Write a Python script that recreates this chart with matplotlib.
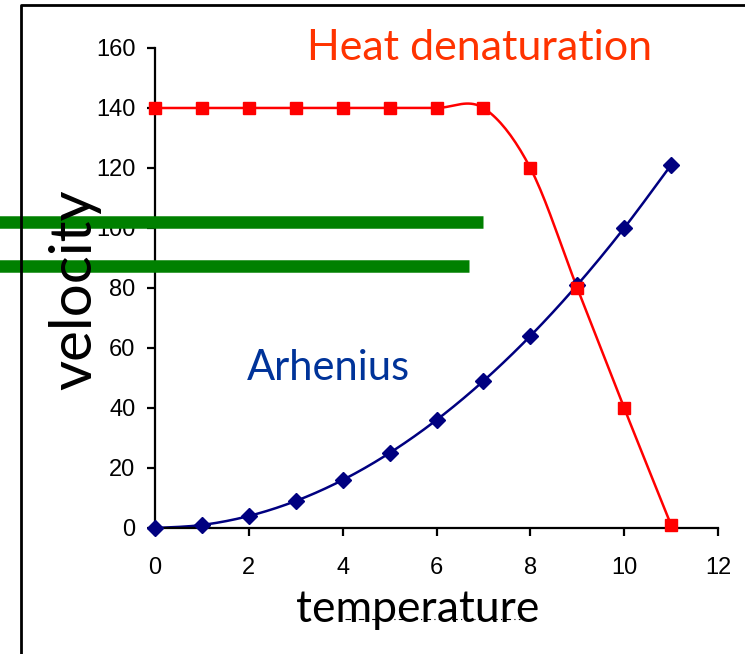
import numpy as np
import matplotlib.pyplot as plt
from matplotlib.lines import Line2D

plt.rcParams['font.family'] = ['Liberation Sans', 'DejaVu Sans']

temperature = [0, 1, 2, 3, 4, 5, 6, 7, 8, 9, 10, 11]
heat_denat = [140, 140, 140, 140, 140, 140, 140, 140, 120, 80, 40, 1]
arhenius = [0, 1, 4, 9, 16, 25, 36, 49, 64, 81, 100, 121]
green_levels = [102, 87.3]
green_ends = [7.0, 6.7]


def smooth(x, y, n=20):
    # Excel-style smoothed line (bezier through points)
    x = np.asarray(x, float)
    y = np.asarray(y, float)
    px = np.concatenate([[x[0]], x, [x[-1]]])
    py = np.concatenate([[y[0]], y, [y[-1]]])
    xs, ys = [], []
    t = np.linspace(0, 1, n)
    for i in range(1, len(px) - 2):
        p0 = np.array([px[i], py[i]])
        p3 = np.array([px[i + 1], py[i + 1]])
        c1 = p0 + (np.array([px[i + 1], py[i + 1]]) - np.array([px[i - 1], py[i - 1]])) / 6
        c2 = p3 - (np.array([px[i + 2], py[i + 2]]) - np.array([px[i], py[i]])) / 6
        b = ((1 - t) ** 3)[:, None] * p0 + (3 * (1 - t) ** 2 * t)[:, None] * c1 \
            + (3 * (1 - t) * t ** 2)[:, None] * c2 + (t ** 3)[:, None] * p3
        xs.extend(b[:, 0])
        ys.extend(b[:, 1])
    return xs, ys


fig = plt.figure(figsize=(7.45, 6.54), dpi=100)
ax = fig.add_axes([155 / 745, 126 / 654, 563 / 745, 480 / 654])

sx, sy = smooth(temperature, arhenius)
ax.plot(sx, sy, color='#000080', lw=1.8, clip_on=False)
ax.plot(temperature, arhenius, ls='none', marker='D', ms=8, color='#000080', clip_on=False, zorder=4)

sx, sy = smooth(temperature, heat_denat)
ax.plot(sx, sy, color='#ff0000', lw=1.8, clip_on=False)
ax.plot(temperature, heat_denat, ls='none', marker='s', ms=9, color='#ff0000', clip_on=False, zorder=5)

ax.set_xlim(0, 12)
ax.set_ylim(0, 160)
ax.set_xticks(range(0, 13, 2))
ax.set_yticks(range(0, 161, 20))
for s in ['top', 'right']:
    ax.spines[s].set_visible(False)
for s in ['left', 'bottom']:
    ax.spines[s].set_linewidth(1.6)
ax.tick_params(axis='both', direction='out', length=6, width=1.6, labelsize=17)
ax.tick_params(axis='y', pad=8)
ax.tick_params(axis='x', pad=15)

# green bars across the y axis
for lev, end in zip(green_levels, green_ends):
    ax.plot([-3.4, end], [lev, lev], color='#008000', lw=9, solid_capstyle='butt',
            clip_on=False, zorder=6)

fig.text(480 / 745, 1 - 48 / 654, 'Heat denaturation', color='#ff3300', fontsize=31,
         family='Lato', ha='center', va='center')
fig.text(328 / 745, 1 - 368 / 654, 'Arhenius', color='#003399', fontsize=30,
         family='Lato', ha='center', va='center')
fig.text(418 / 745, 1 - 610 / 654, 'temperature', color='black', fontsize=32,
         family='Lato', ha='center', va='center')
fig.text(75 / 745, 1 - 290 / 654, 'velocity', color='black', fontsize=42,
         family='Lato', ha='center', va='center', rotation=90)

fig.add_artist(Line2D([345 / 745, 520 / 745], [1 - 619 / 654, 1 - 619 / 654],
                      color='black', lw=0.8, ls=(0, (5, 3, 1, 3))))

# frame around the slide graphic
fig.add_artist(Line2D([21 / 745, 21 / 745, 1.0], [0.0, 1 - 5 / 654, 1 - 5 / 654],
                      color='black', lw=2))

fig.savefig('out.png', dpi=100)
